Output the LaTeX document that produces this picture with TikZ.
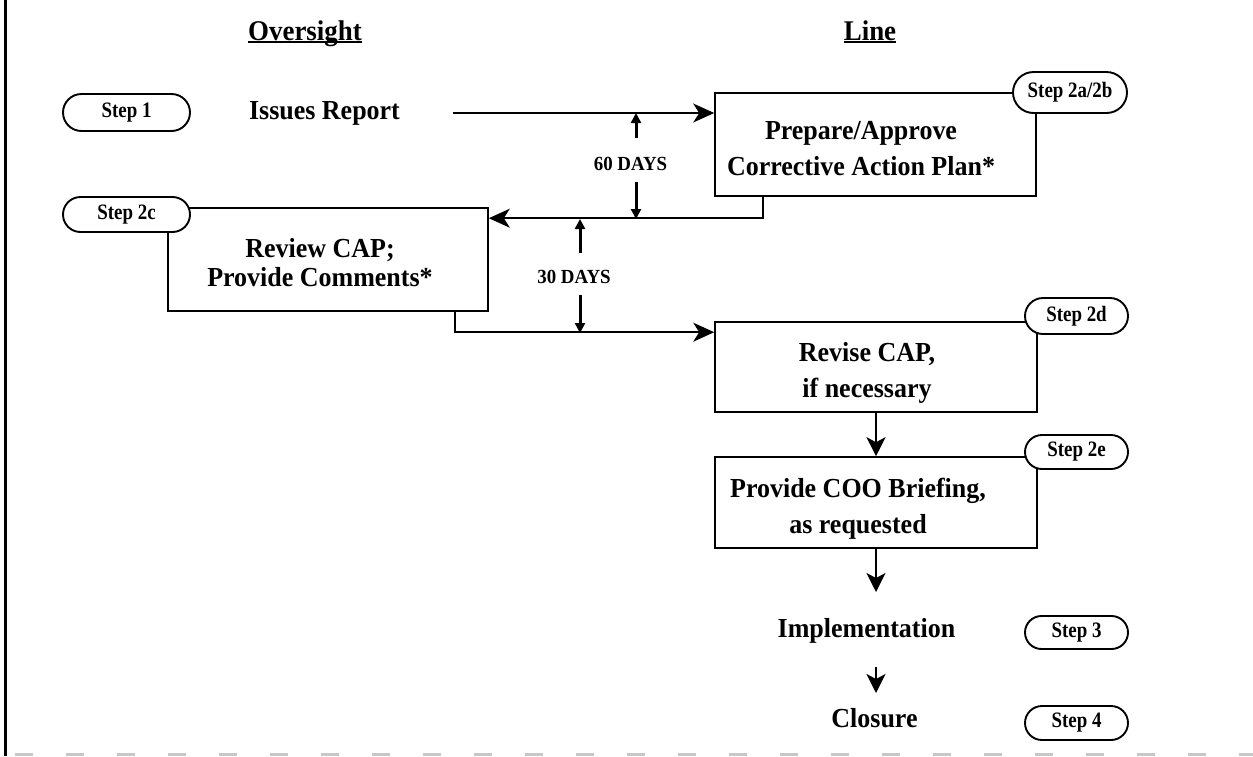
\documentclass[tikz,border=0pt]{standalone}
\usepackage{fontspec}
\setmainfont{Liberation Serif}[FakeStretch=0.945]
\newfontfamily\stepfont{Liberation Serif}[FakeStretch=0.86]
\usetikzlibrary{arrows.meta,shapes.misc}
\begin{document}
\begin{tikzpicture}[x=1pt,y=-1pt,
  box/.style={draw, line width=1.6pt, inner sep=0pt},
  pill/.style={draw, rounded rectangle, line width=1.9pt, fill=white, inner sep=0pt,
    font=\stepfont\bfseries\fontsize{22}{24}\selectfont},
  btext/.style={font=\bfseries\fontsize{27.5}{36}\selectfont, align=center, inner sep=0pt},
  hdr/.style={font=\bfseries\fontsize{28.5}{30}\selectfont, inner sep=0pt},
  days/.style={font=\bfseries\fontsize{20}{22}\selectfont, inner sep=0pt},
  conn/.style={line width=1.6pt},
  bigarrow/.style={conn, -{Stealth[length=21pt,width=19pt,inset=6pt]}},
  downarrow/.style={conn, -{Stealth[length=19pt,width=19pt,inset=5pt]}},
  daysarrow/.style={line width=3pt, -{Triangle[length=10pt,width=10pt]}}
]
\useasboundingbox (0,0) rectangle (1253,756);
\fill[white] (0,0) rectangle (1253,756);

% frame remnants
\draw[line width=3pt] (5,0) -- (5,756);
\draw[black!22, line width=3pt, dash pattern=on 18pt off 33pt] (15,754.5) -- (1253,754.5);

% headers
\node[hdr, anchor=base] (over) at (305,40) {Oversight};
\draw[line width=1.8pt] ([yshift=-2pt]over.base west) -- ([yshift=-2pt]over.base east);
\node[hdr, anchor=base] (line) at (870,40) {Line};
\draw[line width=1.8pt] ([yshift=-2pt]line.base west) -- ([yshift=-2pt]line.base east);

% boxes
\node[box, minimum width=321pt, minimum height=103pt] (prepbox) at (875.5,144.5) {};
\node[box, minimum width=320pt, minimum height=103pt] (revbox) at (328,259.5) {};
\node[box, minimum width=322pt, minimum height=90pt] (revisebox) at (876,367) {};
\node[box, minimum width=322pt, minimum height=91pt] (briefbox) at (876,502.5) {};

% box texts (anchor = baseline of the last line)
\node[btext, anchor=base] (preptext) at (861,175) {Prepare/Approve\\Corrective Action Plan*};
\node[btext, anchor=base, font=\bfseries\fontsize{27.5}{29.5}\selectfont] (revtext) at (320,286.5) {Review CAP;\\Provide Comments*};
\node[btext, anchor=base] (revisetext) at (867,397) {Revise CAP,\\if necessary};
\node[btext, anchor=base] (brieftext) at (858,533) {Provide COO Briefing,\\as requested};

% free texts
\node[btext, anchor=base] (issues) at (324.5,119) {Issues Report};
\node[btext, anchor=base] (impl) at (866.5,637) {Implementation};
\node[btext, anchor=base] (closure) at (874.5,727) {Closure};

% step pills
\node[pill, minimum width=127pt, minimum height=37pt] (s1) at (126.5,112.5) {Step 1};
\node[pill, minimum width=127pt, minimum height=35pt] (s2c) at (126.5,214.5) {Step 2c};
\node[pill, minimum width=114pt, minimum height=41pt] (s2ab) at (1070,92.5) {Step 2a/2b};
\node[pill, minimum width=103pt, minimum height=36pt] (s2d) at (1076.5,316) {Step 2d};
\node[pill, minimum width=103pt, minimum height=34pt] (s2e) at (1076.5,452) {Step 2e};
\node[pill, minimum width=103pt, minimum height=33pt] (s3) at (1076.5,632.5) {Step 3};
\node[pill, minimum width=103pt, minimum height=34pt] (s4) at (1076.5,723) {Step 4};

% connectors
\coordinate (issout) at (453,113);
\draw[bigarrow] (issout) -- (issout -| prepbox.west);
\draw[bigarrow] ([xshift=-274pt]prepbox.south east) |- ([yshift=-11pt]revbox.north east);
\draw[bigarrow] ([xshift=-34pt]revbox.south east) |- ([yshift=-11pt]revisebox.north west);
\draw[downarrow] (revisebox.south) -- (briefbox.north);
\coordinate (impltop) at (876,592);
\draw[downarrow] (briefbox.south) -- (impltop);
\coordinate (implout) at (876,667);
\coordinate (closetop) at (876,693);
\draw[downarrow] (implout) -- (closetop);

% day spans
\node[days, anchor=base] (d60) at (630.5,170) {60 DAYS};
\coordinate (c60a) at (636,113);
\coordinate (c60b) at (636,219);
\draw[daysarrow] (c60a |- 0,138) -- (c60a);
\draw[daysarrow] (c60b |- 0,182) -- (c60b);
\node[days, anchor=base] (d30) at (574,283) {30 DAYS};
\coordinate (c30a) at (580,219);
\coordinate (c30b) at (580,333);
\draw[daysarrow] (c30a |- 0,253) -- (c30a);
\draw[daysarrow] (c30b |- 0,295) -- (c30b);
\end{tikzpicture}
\end{document}
